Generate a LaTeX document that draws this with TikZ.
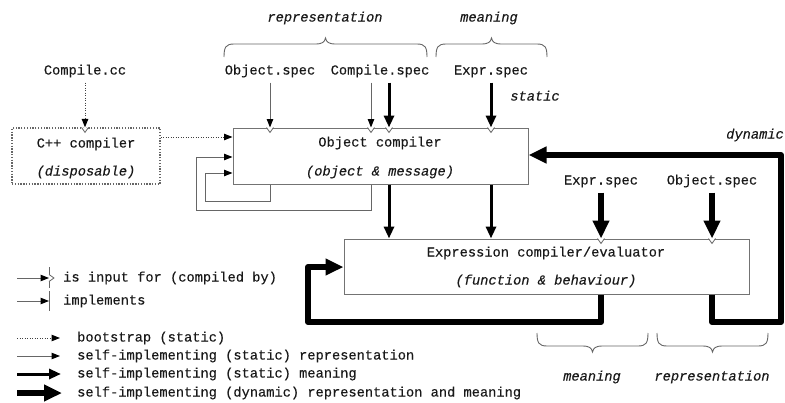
\documentclass[tikz,border=0pt]{standalone}
\usepackage{fontspec}
\setmainfont{Liberation Mono}[FakeBold=0.35]
\usetikzlibrary{arrows.meta}
\newcommand{\rsbrace}[4]{%
\draw[bracestyle] (#1,#3) .. controls (#1,{#3+(#4)*10}) and ({#1+2},{#3+(#4)*13}) .. ({#1+10},{#3+(#4)*13})
 -- ({(#1+#2)/2-10},{#3+(#4)*13}) .. controls ({(#1+#2)/2-3},{#3+(#4)*13}) and ({(#1+#2)/2-1},{#3+(#4)*15}) .. ({(#1+#2)/2},{#3+(#4)*19})
 .. controls ({(#1+#2)/2+1},{#3+(#4)*15}) and ({(#1+#2)/2+3},{#3+(#4)*13}) .. ({(#1+#2)/2+10},{#3+(#4)*13})
 -- ({#2-10},{#3+(#4)*13}) .. controls ({#2-2},{#3+(#4)*13}) and (#2,{#3+(#4)*10}) .. (#2,#3);}
\tikzset{
 txt/.style={font=\fontsize{13.7}{16}\selectfont, inner sep=0pt, text height=7pt, text depth=0pt, text=black!90},
 itx/.style={txt, font=\fontsize{13.7}{16}\selectfont\itshape},
 box/.style={draw=black!55, line width=1pt, inner sep=0pt},
 dotbox/.style={draw=black!60, line width=1.2pt, dash pattern=on 1.3pt off 1.5pt, inner sep=0pt},
 thinarr/.style={draw=black!60, line width=1pt, -{Triangle[length=8.5pt,width=6.5pt,color=black]}},
 dotarr/.style={draw=black!75, line width=1pt, dash pattern=on 1.2pt off 1.3pt, -{Triangle[length=8.5pt,width=6.5pt,color=black]}},
 medarr/.style={draw=black, line width=3pt, -{Triangle[length=12pt,width=10pt]}},
 thickarr/.style={draw=black, line width=6pt, line join=round, -{Triangle[length=18pt,width=16pt]}},
 barline/.style={draw=black!60, line width=1pt},
 bracestyle/.style={draw=black!60, line width=0.9pt},
 inmark/.pic={\path[draw=black!60, fill=white, line width=0.8pt] (-3.5pt,0pt) -- (0pt,-5pt) -- (3.5pt,0pt);},
}
\begin{document}
\begin{tikzpicture}[x=1pt,y=-1pt]
\useasboundingbox (0,0) rectangle (785,402);
% top labels and braces
\node[itx] (reprtop) at (325,18) {representation};
\node[itx] (meantop) at (489,18) {meaning};
\rsbrace{224}{427}{57}{-1}
\rsbrace{436}{547}{57}{-1}
\node[txt] (cc) at (85,71) {Compile.cc};
\node[txt] (os) at (270,71) {Object.spec};
\node[txt] (cs) at (380,71) {Compile.spec};
\node[txt] (es) at (491,71) {Expr.spec};
\node[itx] (static) at (535,97) {static};
\node[itx, anchor=east] (dyn) at (784,135) {dynamic};
% boxes
\node[dotbox, minimum width=148pt, minimum height=56pt] (cpp) at (86,156) {};
\node[txt] (cpp1) at (86,144) {C++ compiler};
\node[itx] (cpp2) at (86,172) {(disposable)};
\node[box, minimum width=295pt, minimum height=56pt] (oc) at (380.5,156) {};
\node[txt] (oc1) at (380,143) {Object compiler};
\node[itx] (oc2) at (380,172) {(object \& message)};
\node[box, minimum width=405pt, minimum height=55pt] (ex) at (546.5,266.5) {};
\node[txt] (ex1) at (546,253) {Expression compiler/evaluator};
\node[itx] (ex2) at (546,281) {(function \& behaviour)};
\node[txt] (es2) at (601,181) {Expr.spec};
\node[txt] (os2) at (712,181) {Object.spec};
% arrows into object compiler
\draw[dotarr, shorten <=8pt] (cc.south) -- (cc.south |- cpp.north);
\draw[dotarr] (cpp.east |- 0,137) -- (oc.west |- 0,137);
\draw[thinarr, shorten <=8pt] (os.south) -- (os.south |- oc.north);
\draw[thinarr, shorten <=8pt] ([xshift=-9pt]cs.south) -- ([xshift=-9pt]cs.south |- oc.north);
\draw[medarr, shorten <=8pt] ([xshift=9pt]cs.south) -- ([xshift=9pt]cs.south |- oc.north);
\draw[medarr, shorten <=8pt] (es.south) -- (es.south |- oc.north);
% self loops
\draw[thinarr] (oc.south -| os.south) |- (205,201) |- (oc.west |- 0,173);
\draw[thinarr] ([xshift=-9pt]cs.south |- oc.south) |- (196,210) |- (oc.west |- 0,157);
% object compiler to expression compiler
\draw[medarr] ([xshift=9pt]cs.south |- oc.south) -- ([xshift=9pt]cs.south |- ex.north);
\draw[medarr] (es.south |- oc.south) -- (es.south |- ex.north);
% into expression compiler
\draw[thickarr, shorten <=8pt] (es2.south) -- (es2.south |- ex.north);
\draw[thickarr, shorten <=8pt] (os2.south) -- (os2.south |- ex.north);
% feedback loops
\draw[thickarr] (ex.south -| es2.south) |- (308,322) |- (ex.west |- 0,267);
\draw[thickarr] (ex.south -| os2.south) |- (781,322) |- (oc.east |- 0,155);
% input markers
\pic at (cc.south |- cpp.north) {inmark};
\pic at (os.south |- oc.north) {inmark};
\pic at ([xshift=-9pt]cs.south |- oc.north) {inmark};
\pic at ([xshift=9pt]cs.south |- oc.north) {inmark};
\pic at (es.south |- oc.north) {inmark};
\pic at (es2.south |- ex.north) {inmark};
\pic at (os2.south |- ex.north) {inmark};
% bottom braces
\rsbrace{537}{648}{333}{1}
\rsbrace{657}{768}{333}{1}
\node[itx] (meanbot) at (592,377) {meaning};
\node[itx] (reprbot) at (712,377) {representation};
% legend
\coordinate (l1a) at (17,278); \coordinate (l1b) at (49,278);
\draw[thinarr] (l1a) -- (l1b);
\draw[barline] (49,267) -- (49,288);
\pic[rotate=90] at (l1b) {inmark};
\node[txt, anchor=west] (lt1) at (63,278) {is input for (compiled by)};
\coordinate (l2a) at (17,301); \coordinate (l2b) at (49,301);
\draw[thinarr] (l2a) -- (l2b);
\draw[barline] (49,291) -- (49,311);
\node[txt, anchor=west] (lt2) at (63,301) {implements};
\coordinate (l3a) at (17,338); \coordinate (l3b) at (60,338);
\draw[dotarr] (l3a) -- (l3b);
\node[txt, anchor=west] (lt3) at (77,338) {bootstrap (static)};
\coordinate (l4a) at (17,356); \coordinate (l4b) at (60,356);
\draw[thinarr] (l4a) -- (l4b);
\node[txt, anchor=west] (lt4) at (77,356) {self-implementing (static) representation};
\coordinate (l5a) at (17,374); \coordinate (l5b) at (61,374);
\draw[medarr] (l5a) -- (l5b);
\node[txt, anchor=west] (lt5) at (77,374) {self-implementing (static) meaning};
\coordinate (l6a) at (17,393); \coordinate (l6b) at (62,393);
\draw[thickarr] (l6a) -- (l6b);
\node[txt, anchor=west] (lt6) at (77,393) {self-implementing (dynamic) representation and meaning};
\end{tikzpicture}
\end{document}
